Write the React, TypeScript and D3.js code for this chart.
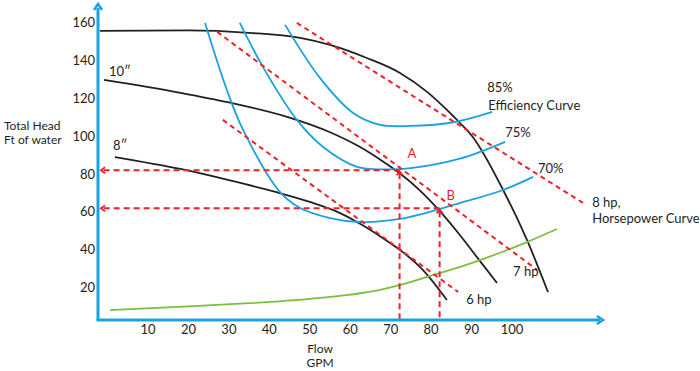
import React from 'react';
import * as d3 from 'd3';

type Pt = [number, number];

// pump curves (flow GPM, head ft)
const pumpTop: Pt[] = [[-1.9, 155.3], [20, 155.6], [35, 154.3], [47.6, 151.6], [55, 147.9], [64.1, 141], [72.3, 133.1], [79, 123.1], [83.9, 113.6], [87.1, 106.8], [90.3, 99.3], [97.8, 71.3], [103.7, 44.9], [108.9, 17.4]];
const pump10: Pt[] = [[-0.9, 129.4], [18, 122.6], [30, 117.5], [45, 109.5], [55, 101.8], [62, 94.5], [68, 86.5], [72, 80.5], [77, 71.5], [82, 60.5], [87, 47.8], [92, 34], [96.3, 22.2]];
const pump8: Pt[] = [[1.8, 88.7], [18, 82.4], [30, 76.5], [42, 70], [50, 65], [56, 60.5], [62, 54], [68, 46], [73, 38.5], [78, 29], [83.9, 13.2]];

// efficiency curves
const eff85: Pt[] = [[43.9, 158.5], [52.5, 130.5], [60.7, 112], [67.4, 105.7], [74.8, 105.1], [85.9, 107.2], [95.1, 112.5]];
const eff75: Pt[] = [[32.7, 159.5], [38.4, 136.3], [46.8, 108.3], [53.3, 94], [61.7, 83.5], [68.5, 82.2], [75, 82.8], [87.1, 87.8], [98.3, 96.7]];
const eff70: Pt[] = [[24.1, 159.5], [29.5, 124.1], [33.5, 103], [42.6, 70.3], [47.6, 61.8], [55, 56.5], [62.4, 54.4], [72.3, 56], [87.1, 64.4], [97.8, 71.3], [105.2, 78.2]];

// horsepower lines
const hp8: Pt[] = [[46.8, 159.5], [117.6, 64.4]];
const hp7: Pt[] = [[27.1, 154.8], [106.2, 29.1]];
const hp6: Pt[] = [[28.5, 108.3], [86.7, 17.4]];

// system curve
const system: Pt[] = [[0.6, 7.9], [20, 9.8], [35, 11.5], [50, 13.8], [60, 16], [67.4, 18.5], [72, 21], [79, 25.4], [92.1, 34.3], [103.7, 43.8], [111.1, 50.7]];

// operating points
const pointA: Pt = [72.2, 81.7];
const pointB: Pt = [82.1, 61.6];

const xTicks = [10, 20, 30, 40, 50, 60, 70, 80, 90, 100];
const yTicks = [20, 40, 60, 80, 100, 120, 140, 160];

const BLUE = '#1ba1df';
const RED = '#ec2227';
const BLACK = '#231f20';
const GREEN = '#7cbf3f';
const FONT = 'Lato, "Open Sans", sans-serif';

export default function App() {
  const x = d3.scaleLinear().domain([0, 100]).range([107.6, 512]);
  const y = d3.scaleLinear().domain([0, 160]).range([325, 22]);
  const axisX = x.invert(98);
  const axisY = y.invert(320);

  const smooth = d3.line<Pt>().x(d => x(d[0])).y(d => y(d[1])).curve(d3.curveCatmullRom.alpha(0.5));
  const mono = d3.line<Pt>().x(d => x(d[0])).y(d => y(d[1])).curve(d3.curveMonotoneX);
  const straight = d3.line<Pt>().x(d => x(d[0])).y(d => y(d[1]));

  const ax0 = x(axisX), ay0 = y(axisY);
  const last = (a: Pt[]) => a[a.length - 1];
  const txt = { fontFamily: FONT, fontSize: 13, fill: BLACK } as const;

  return (
    <svg width={700} height={371} style={{ position: 'absolute', left: 0, top: 0, background: '#fff' }}>
      {/* pump curves */}
      {[pumpTop, pump10, pump8].map((c, i) => (
        <path key={'p' + i} d={mono(c) || ''} fill="none" stroke={BLACK} strokeWidth={1.8} />
      ))}
      {/* efficiency curves */}
      {[eff85, eff75, eff70].map((c, i) => (
        <path key={'e' + i} d={smooth(c) || ''} fill="none" stroke={BLUE} strokeWidth={1.8} />
      ))}
      {/* system curve */}
      <path d={mono(system) || ''} fill="none" stroke={GREEN} strokeWidth={1.8} />
      {/* horsepower lines */}
      {[hp8, hp7, hp6].map((c, i) => (
        <path key={'h' + i} d={straight(c) || ''} fill="none" stroke={RED} strokeWidth={2} strokeDasharray="5,4" />
      ))}
      {/* operating point guides */}
      {[pointA, pointB].map((p, i) => (
        <g key={'g' + i} stroke={RED} strokeWidth={2} fill="none">
          <line x1={x(p[0])} y1={y(p[1])} x2={ax0 + 4} y2={y(p[1])} strokeDasharray="6,4" />
          <line x1={x(p[0])} y1={y(p[1]) + 3} x2={x(p[0])} y2={ay0} strokeDasharray="6,4" />
          <path d={`M${ax0 + 7},${y(p[1]) - 3}L${ax0 + 3},${y(p[1])}L${ax0 + 7},${y(p[1]) + 3}`} strokeWidth={1.8} />
          <path d={`M${x(p[0]) - 3},${y(p[1]) + 5}L${x(p[0])},${y(p[1]) + 1}L${x(p[0]) + 3},${y(p[1]) + 5}`} strokeWidth={1.8} />
        </g>
      ))}
      <text x={x(pointA[0]) + 8} y={y(pointA[1]) - 12} style={{ ...txt, fill: RED }}>A</text>
      <text x={x(pointB[0]) + 7} y={y(pointB[1]) - 8} style={{ ...txt, fill: RED }}>B</text>

      {/* axes */}
      <line x1={ax0} y1={ay0} x2={ax0} y2={8} stroke={BLUE} strokeWidth={3} />
      <line x1={ax0 - 1.5} y1={ay0} x2={600} y2={ay0} stroke={BLUE} strokeWidth={3} />
      <path d={`M${ax0 - 4},${10}L${ax0},${4}L${ax0 + 4},${10}`} fill="none" stroke={BLUE} strokeWidth={2.5} />
      <path d={`M${597},${ay0 - 4}L${603},${ay0}L${597},${ay0 + 4}`} fill="none" stroke={BLUE} strokeWidth={2.5} />

      {yTicks.map(t => (
        <text key={'y' + t} x={95} y={y(t) + 5} textAnchor="end" style={txt}>{t}</text>
      ))}
      {xTicks.map(t => (
        <text key={'x' + t} x={x(t)} y={334} textAnchor="middle" style={txt}>{t}</text>
      ))}

      <text x={4} y={130} style={{ ...txt, fontSize: 12 }}>Total Head</text>
      <text x={4} y={144} style={{ ...txt, fontSize: 12 }}>Ft of water</text>
      <text x={320} y={353} textAnchor="middle" style={{ ...txt, fontSize: 12 }}>Flow</text>
      <text x={320} y={367} textAnchor="middle" style={{ ...txt, fontSize: 12 }}>GPM</text>

      {/* curve labels */}
      <text x={x(pump10[0][0]) + 5} y={y(pump10[0][1]) - 4} style={txt}>10″</text>
      <text x={x(pump8[0][0]) - 2} y={y(pump8[0][1]) - 7} style={txt}>8″</text>
      <text x={x(last(eff85)[0]) - 5} y={y(last(eff85)[1]) - 20} style={txt}>85%</text>
      <text x={x(last(eff85)[0]) - 4} y={y(last(eff85)[1]) - 2} style={txt}>Efficiency Curve</text>
      <text x={x(last(eff75)[0])} y={y(last(eff75)[1]) - 5} style={txt}>75%</text>
      <text x={x(last(eff70)[0]) + 5} y={y(last(eff70)[1]) - 4} style={txt}>70%</text>
      <text x={x(last(hp8)[0]) + 9} y={y(last(hp8)[1]) + 4} style={txt}>8 hp,</text>
      <text x={x(last(hp8)[0]) + 9} y={y(last(hp8)[1]) + 20} style={txt}>Horsepower Curve</text>
      <text x={x(last(hp7)[0]) - 24} y={y(last(hp7)[1]) + 6} style={txt}>7 hp</text>
      <text x={x(last(hp6)[0]) + 8} y={y(last(hp6)[1]) + 12} style={txt}>6 hp</text>
    </svg>
  );
}
